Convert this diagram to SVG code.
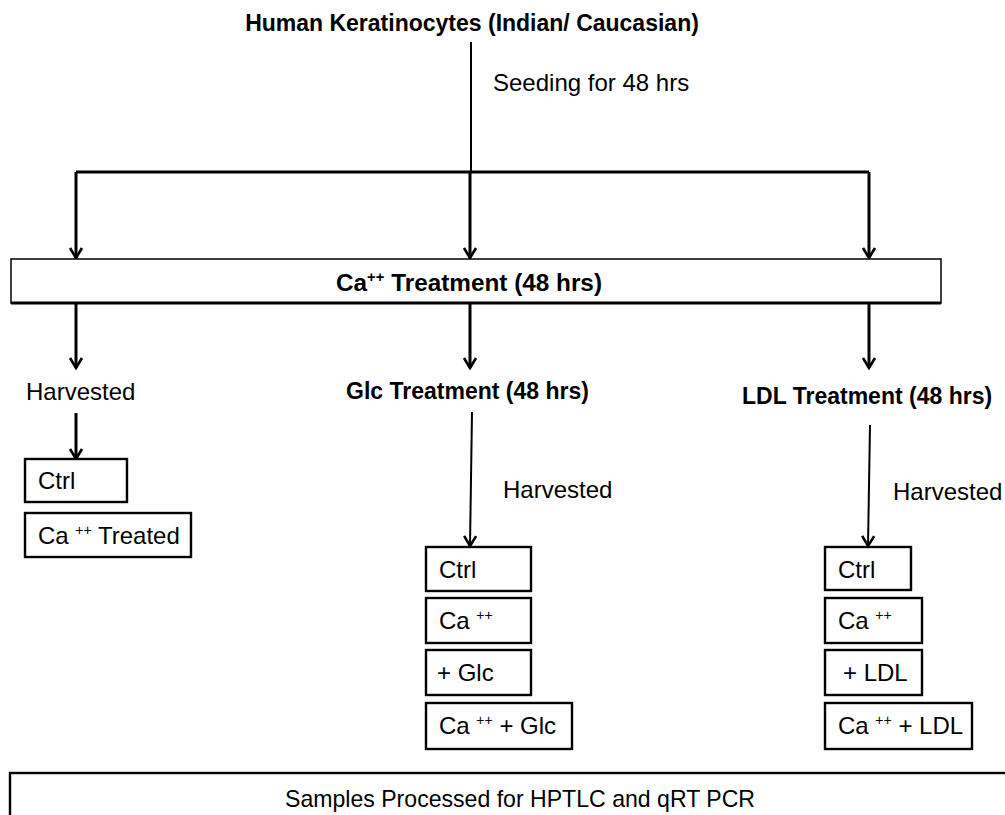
<svg xmlns="http://www.w3.org/2000/svg" width="1005" height="815" viewBox="0 0 1005 815">
<defs>
<style>
.t{font-family:"Liberation Sans",Arial,sans-serif;font-size:24px;fill:#000}
.b{font-family:"Liberation Sans",Arial,sans-serif;font-size:23px;font-weight:bold;fill:#000}
.sup{font-size:14px}
.box{fill:#fff;stroke:#000;stroke-width:2.4}
.ln{fill:none;stroke:#000;stroke-width:3}
.thin{fill:none;stroke:#000;stroke-width:2}
</style>
<marker id="ah" viewBox="-12 -8 14 16" refX="0" refY="0" markerWidth="14" markerHeight="16" markerUnits="userSpaceOnUse" orient="auto">
<path d="M-10,-6 L0,0 L-10,6" fill="none" stroke="#000" stroke-width="2.6"/>
</marker>
</defs>
<rect width="1005" height="815" fill="#fff"/>

<g id="connectors">
<line class="thin" x1="471" y1="42" x2="471" y2="172"/>
<line class="ln" x1="76" y1="172" x2="869" y2="172"/>
<line class="ln" x1="76" y1="172" x2="76" y2="258" marker-end="url(#ah)"/>
<line class="ln" x1="470" y1="172" x2="470" y2="258" marker-end="url(#ah)"/>
<line class="ln" x1="869" y1="172" x2="869" y2="258" marker-end="url(#ah)"/>
<line class="ln" x1="76" y1="304" x2="76" y2="368" marker-end="url(#ah)"/>
<line class="ln" x1="470" y1="304" x2="470" y2="368" marker-end="url(#ah)"/>
<line class="ln" x1="869" y1="304" x2="869" y2="368" marker-end="url(#ah)"/>
<line class="ln" x1="76" y1="413" x2="76" y2="459" marker-end="url(#ah)"/>
<line class="thin" x1="472" y1="412" x2="470" y2="546" marker-end="url(#ah)"/>
<line class="thin" x1="870" y1="425" x2="868" y2="546" marker-end="url(#ah)"/>
</g>

<g id="title">
<text class="b" x="472" y="31" text-anchor="middle">Human Keratinocytes (Indian/ Caucasian)</text>
</g>
<g id="seeding-label">
<text class="t" x="493" y="91">Seeding for 48  hrs</text>
</g>

<g id="ca-treatment">
<rect x="11" y="259" width="930" height="44" fill="#fff" stroke="#000" stroke-width="1.5"/>
<line x1="11" y1="303" x2="941" y2="303" stroke="#000" stroke-width="3"/>
<text class="b" x="469" y="291" text-anchor="middle" textLength="266" lengthAdjust="spacingAndGlyphs">Ca<tspan class="sup" dy="-9">++</tspan><tspan dy="9"> Treatment (48 hrs)</tspan></text>
</g>

<g id="harvested-left">
<text class="t" x="26" y="400">Harvested</text>
</g>
<g id="glc-treatment">
<text class="b" x="346" y="399">Glc Treatment (48 hrs)</text>
</g>
<g id="ldl-treatment">
<text class="b" x="742" y="404">LDL Treatment (48 hrs)</text>
</g>
<g id="harvested-mid">
<text class="t" x="503" y="498">Harvested</text>
</g>
<g id="harvested-right">
<text class="t" x="893" y="500">Harvested</text>
</g>

<g id="left-ctrl">
<rect class="box" x="25" y="459" width="102" height="43"/>
<text class="t" x="38" y="489">Ctrl</text>
</g>
<g id="left-ca-treated">
<rect class="box" x="25" y="513" width="166" height="44"/>
<text class="t" x="38" y="544">Ca <tspan class="sup" dy="-9">++</tspan><tspan dy="9"> Treated</tspan></text>
</g>

<g id="glc-ctrl">
<rect class="box" x="426" y="547" width="105" height="44"/>
<text class="t" x="439" y="578">Ctrl</text>
</g>
<g id="glc-ca">
<rect class="box" x="426" y="598" width="105" height="45"/>
<text class="t" x="439" y="629">Ca <tspan class="sup" dy="-9">++</tspan></text>
</g>
<g id="glc-glc">
<rect class="box" x="426" y="650" width="105" height="45"/>
<text class="t" x="437" y="681">+ Glc</text>
</g>
<g id="glc-ca-glc">
<rect class="box" x="426" y="703" width="146" height="46"/>
<text class="t" x="439" y="734">Ca <tspan class="sup" dy="-9">++</tspan><tspan dy="9">  + Glc</tspan></text>
</g>

<g id="ldl-ctrl">
<rect class="box" x="825" y="547" width="86" height="43"/>
<text class="t" x="838" y="578">Ctrl</text>
</g>
<g id="ldl-ca">
<rect class="box" x="825" y="598" width="97" height="45"/>
<text class="t" x="838" y="629">Ca <tspan class="sup" dy="-9">++</tspan></text>
</g>
<g id="ldl-ldl">
<rect class="box" x="825" y="650" width="97" height="45"/>
<text class="t" x="843" y="681">+ LDL</text>
</g>
<g id="ldl-ca-ldl">
<rect class="box" x="825" y="703" width="147" height="46"/>
<text class="t" x="838" y="734">Ca <tspan class="sup" dy="-9">++</tspan><tspan dy="9"> + LDL</tspan></text>
</g>

<g id="samples-processed">
<rect class="box" x="10" y="773" width="1010" height="60"/>
<text class="t" x="520" y="807" text-anchor="middle" textLength="470" lengthAdjust="spacingAndGlyphs">Samples Processed for HPTLC and qRT PCR</text>
</g>
</svg>
